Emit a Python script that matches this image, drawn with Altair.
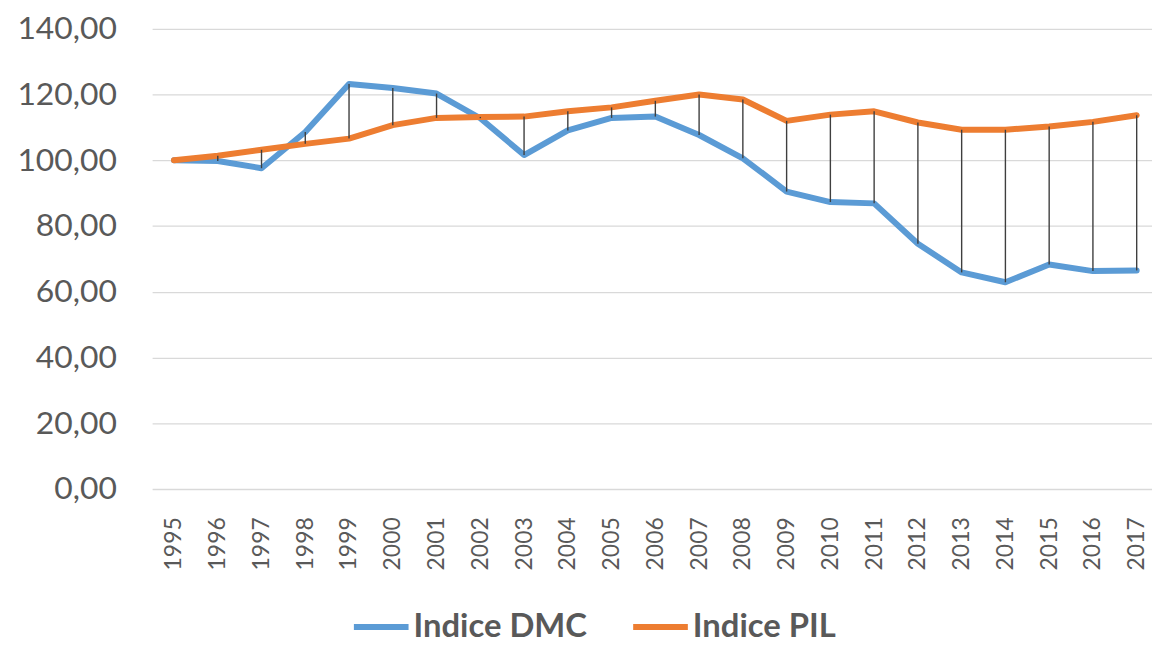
import altair as alt
import pandas as pd

years = [1995, 1996, 1997, 1998, 1999, 2000, 2001, 2002, 2003, 2004, 2005, 2006,
         2007, 2008, 2009, 2010, 2011, 2012, 2013, 2014, 2015, 2016, 2017]
dmc = [100.0, 99.8, 97.6, 108.6, 123.2, 122.0, 120.3, 112.8, 101.6, 109.1, 112.9, 113.3,
       107.7, 100.6, 90.5, 87.3, 86.9, 74.6, 65.9, 62.9, 68.3, 66.3, 66.5]
pil = [100.0, 101.4, 103.2, 105.0, 106.6, 110.7, 112.9, 113.2, 113.3, 114.9, 116.1, 118.1,
       120.0, 118.5, 112.0, 113.9, 114.9, 111.5, 109.3, 109.3, 110.3, 111.7, 113.7]
series_names = ["Indice DMC", "Indice PIL"]
series_colors = ["#5B9BD5", "#ED7D31"]
y_ticks = [0, 20, 40, 60, 80, 100, 120, 140]

df = pd.DataFrame({"year": years, "Indice DMC": dmc, "Indice PIL": pil})

FONT = "Lato"
GREY = "#595959"

x_enc = alt.X(
    "year:Q",
    scale=alt.Scale(domain=[1994.5, 2017.35], nice=False, zero=False),
    axis=alt.Axis(
        values=years, format="d", title=None, grid=False, domain=False, ticks=False,
        labelAngle=270, labelAlign="right", labelBaseline="middle",
        labelPadding=28, labelFont=FONT, labelFontSize=23, labelColor=GREY,
        labelFlush=False, labelOverlap=False, labelBound=False,
    ),
)

lines = alt.Chart(df).transform_fold(
    series_names, as_=["serie", "valore"]
).mark_line(strokeWidth=6, strokeCap="round", strokeJoin="round").encode(
    x=x_enc,
    y=alt.Y(
        "valore:Q",
        scale=alt.Scale(domain=[0, 140], nice=False),
        axis=alt.Axis(
            values=y_ticks, title=None, domain=False, ticks=False,
            grid=True, gridColor="#D9D9D9", gridWidth=1.3,
            labelExpr="replace(format(datum.value, '.2f'), '.', ',')",
            labelPadding=36, labelFont=FONT, labelFontSize=32, labelColor=GREY,
        ),
    ),
    color=alt.Color(
        "serie:N",
        scale=alt.Scale(domain=series_names, range=series_colors),
        legend=alt.Legend(
            title=None, orient="none", legendX=200, legendY=571,
            direction="horizontal", symbolType="stroke", symbolStrokeWidth=6,
            symbolSize=3025, labelFont=FONT, labelFontWeight="bold",
            labelFontSize=33, labelColor=GREY, columnPadding=34, labelOffset=2,
            labelLimit=0,
        ),
    ),
    order=alt.Order("serie:N"),
)

rules = alt.Chart(df).mark_rule(color="#3F3F3F", strokeWidth=1.4).encode(
    x="year:Q",
    y="Indice DMC:Q",
    y2="Indice PIL:Q",
)

chart = alt.layer(lines, rules).properties(
    width=1006,
    height=463,
    padding={"left": 145, "top": 19, "right": 0, "bottom": 157},
    autosize=alt.AutoSizeParams(type="none"),
).configure_view(stroke=None)

chart.save("out.html", embed_options={"renderer": "svg", "actions": False})
